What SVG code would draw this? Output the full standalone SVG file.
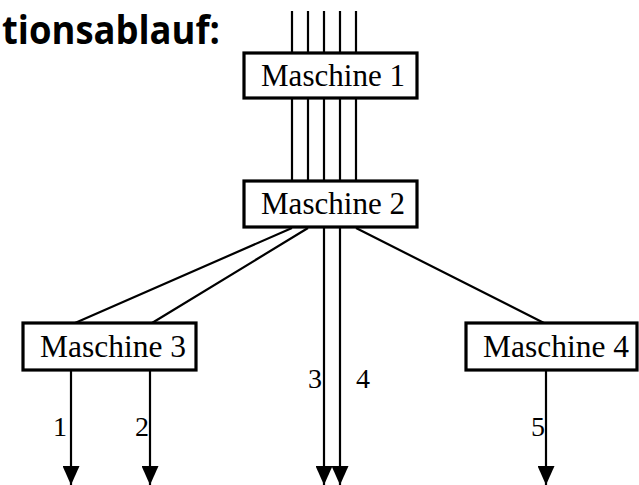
<svg xmlns="http://www.w3.org/2000/svg" width="639" height="485" viewBox="0 0 639 485">
<style>
.box{fill:#fff;stroke:#000;stroke-width:3.2}
.lbl{font-family:"Liberation Serif","Times New Roman",serif;font-size:32px;fill:#000;text-anchor:middle}
.num{font-family:"Liberation Serif","Times New Roman",serif;font-size:28px;fill:#000}
.ln{stroke:#000;stroke-width:2.2;fill:none}
.title{font-family:"Open Sans","DejaVu Sans",sans-serif;font-weight:bold;font-size:39px;fill:#000}
</style>
<defs>
<marker id="ah" viewBox="0 0 19 17" refX="19" refY="8.5" markerWidth="19" markerHeight="17" markerUnits="userSpaceOnUse" orient="auto">
<path d="M0,0 L19,8.5 L0,17 z" fill="#000"/>
</marker>
</defs>
<text class="title" x="2" y="44" textLength="218" lengthAdjust="spacingAndGlyphs">tionsablauf:</text>
<g id="connectors">
<path class="ln" d="M292,11V53M308,11V53M324,11V53M340,11V53M356,11V53"/>
<path class="ln" d="M292,98V180M308,98V180M324,98V180M340,98V180M356,98V180"/>
<path class="ln" d="M292,228L75,323M308,228L152,323M356,228L544,323"/>
<line class="ln" x1="324" y1="228" x2="324" y2="485" marker-end="url(#ah)"/>
<line class="ln" x1="340" y1="228" x2="340" y2="485" marker-end="url(#ah)"/>
<line class="ln" x1="71" y1="371" x2="71" y2="485" marker-end="url(#ah)"/>
<line class="ln" x1="150" y1="371" x2="150" y2="485" marker-end="url(#ah)"/>
<line class="ln" x1="546" y1="371" x2="546" y2="485" marker-end="url(#ah)"/>
<text class="num" x="67" y="436" text-anchor="end">1</text>
<text class="num" x="149" y="436" text-anchor="end">2</text>
<text class="num" x="322" y="388" text-anchor="end">3</text>
<text class="num" x="356" y="388">4</text>
<text class="num" x="545" y="436" text-anchor="end">5</text>
</g>
<g id="m1"><rect class="box" x="244" y="53" width="173" height="45"/><text class="lbl" x="333" y="86" textLength="144" lengthAdjust="spacingAndGlyphs">Maschine 1</text></g>
<g id="m2"><rect class="box" x="244" y="181" width="173" height="46"/><text class="lbl" x="333" y="214" textLength="144" lengthAdjust="spacingAndGlyphs">Maschine 2</text></g>
<g id="m3"><rect class="box" x="23" y="323" width="173" height="47"/><text class="lbl" x="113" y="357" textLength="146" lengthAdjust="spacingAndGlyphs">Maschine 3</text></g>
<g id="m4"><rect class="box" x="466" y="323" width="171" height="47"/><text class="lbl" x="556" y="357" textLength="146" lengthAdjust="spacingAndGlyphs">Maschine 4</text></g>
</svg>
